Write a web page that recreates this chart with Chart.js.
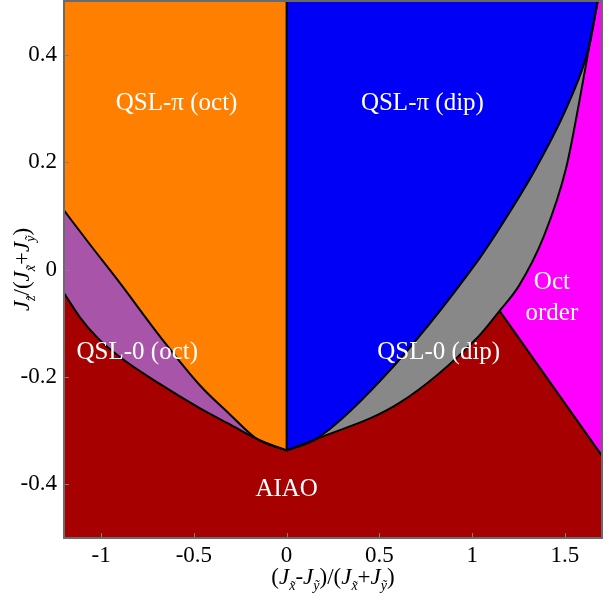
<!DOCTYPE html>
<html><head><meta charset="utf-8">
<script src="https://cdn.jsdelivr.net/npm/chart.js@4.4.0/dist/chart.umd.min.js"></script>
<style>html,body{margin:0;padding:0;background:#fff;overflow:hidden}#wrap{width:604px;height:598px}</style>
</head><body><div id="wrap"><canvas id="c" width="604" height="598"></canvas></div>
<script>
// ---- axis ranges and ticks ----
const xLimits = [-1.2, 1.7];
const yLimits = [-0.5, 0.5];
const xTickValues = [-1, -0.5, 0, 0.5, 1, 1.5];
const yTickValues = [-0.4, -0.2, 0, 0.2, 0.4];

// ---- phase boundaries ----
// QSL-pi (oct) / QSL-0 (oct)
const octPiOct0X = [-1.2, -1.061, -0.899, -0.684, -0.469, -0.308, -0.158, 0];
const octPiOct0Y = [0.110, 0.047, -0.025, -0.124, -0.215, -0.269, -0.316, -0.337];
// QSL-0 (oct) / AIAO
const oct0AiaoX = [-1.2, -1.114, -1.023, -0.899, -0.684, -0.469, -0.308, -0.158, 0];
const oct0AiaoY = [-0.044, -0.089, -0.126, -0.163, -0.213, -0.258, -0.288, -0.316, -0.337];
// QSL-pi (oct) / QSL-pi (dip)
const octDipX = [0, 0];
const octDipY = [-0.337, 0.5];
// QSL-pi (dip) / QSL-0 (dip)
const dipPiDip0X = [0, 0.158, 0.508, 1.036, 1.181, 1.343, 1.524, 1.632, 1.677];
const dipPiDip0Y = [-0.337, -0.316, -0.206, 0.019, 0.095, 0.188, 0.313, 0.417, 0.5];
// QSL-0 (dip) / AIAO and QSL / Oct order
const dip0LowerX = [0, 0.158, 0.606, 1.036, 1.148, 1.253, 1.388, 1.506, 1.578, 1.632, 1.677];
const dip0LowerY = [-0.337, -0.316, -0.249, -0.124, -0.077, -0.030, 0.063, 0.188, 0.313, 0.417, 0.5];
// Oct order / AIAO
const octOrderAiaoX = [1.148, 1.7];
const octOrderAiaoY = [-0.077, -0.347];

// ---- phase labels ----
const phaseNames = ['QSL-\u03c0 (oct)', 'QSL-\u03c0 (dip)', 'QSL-0 (oct)', 'QSL-0 (dip)', 'AIAO', 'Oct', 'order'];
const phaseX = [-0.593, 0.732, -0.805, 0.82, 0.0, 1.43, 1.43];
const phaseY = [0.309, 0.309, -0.154, -0.154, -0.409, -0.025, -0.082];

const COL = {
  aiao: '#A60000', oct0: '#A854A8', octPi: '#FF8000',
  dipPi: '#0000F6', dip0: '#888888', octOrder: '#FF00FF'
};

function pts(xs, ys) { return xs.map((x, i) => ({x: x, y: ys[i]})); }

function region(xs, ys, color, order) {
  return { data: pts(xs, ys), showLine: true, fill: 'end', backgroundColor: color,
    borderColor: 'rgba(0,0,0,0)', borderWidth: 0, pointRadius: 0,
    cubicInterpolationMode: 'monotone', order: order };
}
function boundary(xs, ys, mono) {
  return { data: pts(xs, ys), showLine: true, fill: false, borderColor: '#000',
    borderWidth: 2, pointRadius: 0, tension: 0,
    cubicInterpolationMode: mono ? 'monotone' : 'default', order: 0 };
}

const datasets = [
  region(octOrderAiaoX, octOrderAiaoY, COL.octOrder, 60),
  region(dip0LowerX, dip0LowerY, COL.dip0, 50),
  region(dipPiDip0X, dipPiDip0Y, COL.dipPi, 40),
  region(oct0AiaoX, oct0AiaoY, COL.oct0, 30),
  region(octPiOct0X, octPiOct0Y, COL.octPi, 20),
  boundary(octPiOct0X, octPiOct0Y, true),
  boundary(oct0AiaoX, oct0AiaoY, true),
  boundary(octDipX, octDipY, false),
  boundary(dipPiDip0X, dipPiDip0Y, true),
  boundary(dip0LowerX, dip0LowerY, true),
  boundary(octOrderAiaoX, octOrderAiaoY, false)
];

const SERIF = '"Liberation Serif", "Times New Roman", serif';

function drawRich(ctx, parts, cx, baseY, size) {
  const sub = Math.round(size * 0.62);
  const fontFor = p => (p.i ? 'italic ' : '') + (p.s ? sub : size) + 'px ' + SERIF;
  let w = 0;
  parts.forEach(p => { ctx.font = fontFor(p); w += ctx.measureText(p.t).width; });
  let x = cx - w / 2;
  parts.forEach(p => {
    ctx.font = fontFor(p);
    ctx.fillText(p.t, x, baseY + (p.s ? size * 0.28 : 0));
    x += ctx.measureText(p.t).width;
  });
}

const decor = {
  id: 'decor',
  beforeDatasetsDraw(chart) {
    const {ctx, chartArea: a} = chart;
    ctx.save();
    ctx.fillStyle = COL.aiao;
    ctx.fillRect(a.left, a.top, a.right - a.left, a.bottom - a.top);
    ctx.restore();
  },
  afterDatasetsDraw(chart) {
    const {ctx, chartArea: a, scales} = chart;
    ctx.save();
    // phase labels
    ctx.fillStyle = '#fff';
    ctx.font = '25px ' + SERIF;
    ctx.textAlign = 'center';
    ctx.textBaseline = 'middle';
    phaseNames.forEach((t, i) => {
      ctx.fillText(t, scales.x.getPixelForValue(phaseX[i]), scales.y.getPixelForValue(phaseY[i]));
    });
    // inward ticks
    ctx.strokeStyle = '#808080';
    ctx.lineWidth = 1;
    xTickValues.forEach(v => {
      const px = Math.round(scales.x.getPixelForValue(v)) + 0.5;
      ctx.beginPath(); ctx.moveTo(px, a.bottom); ctx.lineTo(px, a.bottom - 5); ctx.stroke();
    });
    yTickValues.forEach(v => {
      const py = Math.round(scales.y.getPixelForValue(v)) + 0.5;
      ctx.beginPath(); ctx.moveTo(a.left, py); ctx.lineTo(a.left + 5, py); ctx.stroke();
    });
    // frame
    ctx.strokeStyle = '#6a6a6a';
    ctx.lineWidth = 2;
    ctx.strokeRect(a.left, a.top, a.right - a.left, a.bottom - a.top);
    // axis titles
    ctx.fillStyle = '#000';
    ctx.textAlign = 'left';
    ctx.textBaseline = 'alphabetic';
    const xTitle = [{t:'('},{t:'J',i:1},{t:'x\u0303',i:1,s:1},{t:'-'},{t:'J',i:1},{t:'y\u0303',i:1,s:1},
      {t:')/('},{t:'J',i:1},{t:'x\u0303',i:1,s:1},{t:'+'},{t:'J',i:1},{t:'y\u0303',i:1,s:1},{t:')'}];
    drawRich(ctx, xTitle, (a.left + a.right) / 2, 584, 23);
    const yTitle = [{t:'J',i:1},{t:'z\u0303',i:1,s:1},{t:'/('},{t:'J',i:1},{t:'x\u0303',i:1,s:1},{t:'+'},
      {t:'J',i:1},{t:'y\u0303',i:1,s:1},{t:')'}];
    ctx.translate(29, (a.top + a.bottom) / 2);
    ctx.rotate(-Math.PI / 2);
    drawRich(ctx, yTitle, 0, 0, 23);
    ctx.restore();
  }
};

const tickFont = {family: SERIF, size: 23};

new Chart(document.getElementById('c'), {
  type: 'scatter',
  data: {datasets: datasets},
  options: {
    responsive: false, animation: false, devicePixelRatio: 1,
    layout: {padding: {top: 1, right: 2, left: 0, bottom: 0}},
    plugins: {legend: {display: false}, tooltip: {enabled: false}, filler: {propagate: false}},
    scales: {
      x: {
        type: 'linear', min: xLimits[0], max: xLimits[1],
        afterBuildTicks: s => { s.ticks = xTickValues.map(v => ({value: v})); },
        afterFit: s => { s.height = 60; s.paddingLeft = 0; s.paddingRight = 0; },
        grid: {display: false, drawTicks: false}, border: {display: false},
        ticks: {font: tickFont, color: '#000', padding: 4, maxRotation: 0, autoSkip: false,
          callback: v => String(v)}
      },
      y: {
        type: 'linear', min: yLimits[0], max: yLimits[1],
        afterBuildTicks: s => { s.ticks = yTickValues.map(v => ({value: v})); },
        afterFit: s => { s.width = 64; s.paddingTop = 0; s.paddingBottom = 0; },
        grid: {display: false, drawTicks: false}, border: {display: false},
        ticks: {font: tickFont, color: '#000', padding: 7, autoSkip: false,
          callback: v => String(v)}
      }
    }
  },
  plugins: [decor]
});
</script>
</body></html>
